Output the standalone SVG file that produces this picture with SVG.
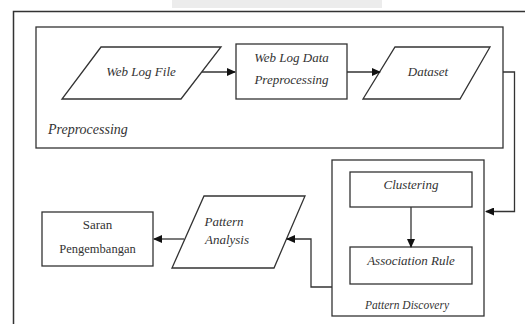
<svg xmlns="http://www.w3.org/2000/svg" width="525" height="324" viewBox="0 0 525 324">
<style>
.s{fill:none;stroke:#333;stroke-width:1.3}
.n{fill:#fff;stroke:#333;stroke-width:1.3}
text{font-family:"Liberation Serif","Times New Roman","DejaVu Serif",serif;font-size:13px;fill:#333;text-anchor:middle}
.t{font-style:italic}
.c{fill:none;stroke:#333;stroke-width:1.3;marker-end:url(#ah)}
</style>
<defs>
<marker id="ah" markerWidth="9" markerHeight="8" refX="8" refY="4" orient="auto" markerUnits="userSpaceOnUse">
<path d="M0,0 L9,4 L0,8 Z" fill="#111"/>
</marker>
</defs>
<rect width="525" height="324" fill="#fff"/>
<rect x="172" y="0" width="210" height="8" fill="#ececec"/>
<g id="frame"><path class="s" d="M13.5,324 V11.5 H525" style="stroke-width:1.5"/></g>
<g id="preprocessing-group">
<rect class="s" x="36" y="27" width="467" height="121"/>
<text class="t" x="48" y="134" style="text-anchor:start;font-size:14px">Preprocessing</text>
</g>
<g id="web-log-file">
<polygon class="n" points="101,47 221,47 181,99 62,99"/>
<text class="t" x="141" y="76">Web Log File</text>
</g>
<g id="web-log-data-preprocessing">
<rect class="n" x="236" y="44" width="111" height="55"/>
<text class="t" x="291.5" y="62">Web Log Data</text>
<text class="t" x="291.5" y="84">Preprocessing</text>
</g>
<g id="dataset">
<polygon class="n" points="395,47 490,47 460,99 363,99"/>
<text class="t" x="428" y="76">Dataset</text>
</g>
<g id="pattern-discovery-group">
<rect class="s" x="332" y="160" width="152" height="156"/>
<text class="t" x="407" y="309" style="font-size:11.5px">Pattern Discovery</text>
</g>
<g id="clustering">
<rect class="n" x="350" y="172" width="122" height="35"/>
<text class="t" x="411" y="189">Clustering</text>
</g>
<g id="association-rule">
<rect class="n" x="350" y="247" width="122" height="37"/>
<text class="t" x="411" y="265">Association Rule</text>
</g>
<g id="pattern-analysis">
<polygon class="n" points="204,196 305,196 274,268 172,268"/>
<text class="t" x="224" y="226">Pattern</text>
<text class="t" x="227" y="244">Analysis</text>
</g>
<g id="saran-pengembangan">
<rect class="n" x="42" y="212" width="111" height="54"/>
<text x="97.5" y="229">Saran</text>
<text x="97.5" y="253" style="font-size:12.5px">Pengembangan</text>
</g>
<g id="connectors">
<path class="c" d="M202,72 H235"/>
<path class="c" d="M347,72 H380"/>
<path class="c" d="M503,72 H514.5 V211.5 H486"/>
<path class="c" d="M411,207 V247"/>
<path class="c" d="M332,287 H311 V239 H287"/>
<path class="c" d="M184,239 H154"/>
</g>
</svg>
